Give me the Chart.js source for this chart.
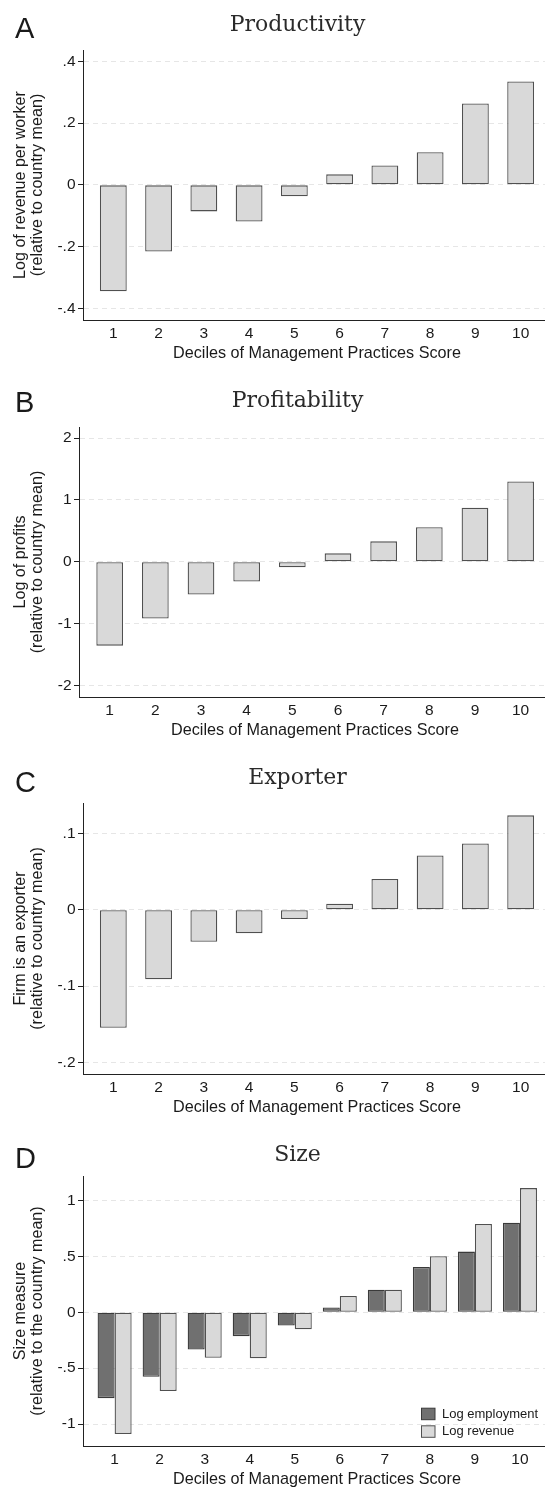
<!DOCTYPE html>
<html><head><meta charset="utf-8">
<script src="https://cdn.jsdelivr.net/npm/chart.js@4.4.1/dist/chart.umd.min.js"></script>
<style>
html,body{margin:0;padding:0;background:#fff;width:545px;height:1487px;overflow:hidden}
canvas{position:absolute;left:0;display:block}
</style></head><body>
<canvas id="cA" width="545" height="372" style="top:0px"></canvas>
<canvas id="cB" width="545" height="376" style="top:372px"></canvas>
<canvas id="cC" width="545" height="374" style="top:748px"></canvas>
<canvas id="cD" width="545" height="365" style="top:1122px"></canvas>
<script>
// ---- data ----
const deciles = [1,2,3,4,5,6,7,8,9,10];
const productivity = [-0.345,-0.216,-0.086,-0.119,-0.037,0.034,0.063,0.106,0.264,0.335];
const profitability = [-1.355,-0.918,-0.529,-0.318,-0.090,0.136,0.330,0.557,0.875,1.297];
const exporter = [-0.1545,-0.091,-0.042,-0.0306,-0.0122,0.0079,0.0403,0.0713,0.087,0.1238];
const logEmployment = [-0.768,-0.577,-0.333,-0.214,-0.119,0.042,0.202,0.405,0.542,0.801];
const logRevenue = [-1.089,-0.705,-0.408,-0.411,-0.152,0.146,0.202,0.500,0.789,1.110];

const yTicksA = [-0.4,-0.2,0,0.2,0.4];
const yTickLabelsA = ['-.4','-.2','0','.2','.4'];
const yTicksB = [-2,-1,0,1,2];
const yTickLabelsB = ['-2','-1','0','1','2'];
const yTicksC = [-0.2,-0.1,0,0.1];
const yTickLabelsC = ['-.2','-.1','0','.1'];
const yTicksD = [-1,-0.5,0,0.5,1];
const yTickLabelsD = ['-1','-.5','0','.5','1'];

const xTitle = 'Deciles of Management Practices Score';
const panelLetters = ['A','B','C','D'];
const panelTitles = ['Productivity','Profitability','Exporter','Size'];
const yTitleA = ['Log of revenue per worker','(relative to country mean)'];
const yTitleB = ['Log of profits','(relative to country mean)'];
const yTitleC = ['Firm is an exporter','(relative to country mean)'];
const yTitleD = ['Size measure','(relative to the country mean)'];
const seriesNamesD = ['Log employment','Log revenue'];

// ---- styles ----
const TEXT = '#1a1a1a';
const SANS = '"Liberation Sans", Arial, Helvetica, sans-serif';
const SERIF = '"DejaVu Serif", serif';
const LIGHT = '#d9d9d9', LIGHT_BORDER = '#505050';
const DARK = '#707070', DARK_BORDER = '#3a3a3a';

const panelText = {
  id: 'panelText',
  afterDraw(chart, args, o) {
    const ctx = chart.ctx, a = chart.chartArea;
    ctx.save();
    ctx.fillStyle = TEXT;
    ctx.textBaseline = 'alphabetic';
    ctx.textAlign = 'left';
    ctx.font = '29px ' + SANS;
    ctx.fillText(o.letter, 15, o.letterY);
    ctx.textAlign = 'center';
    ctx.fillStyle = '#2a2a2a';
    ctx.font = '22px ' + SERIF;
    ctx.fillText(o.title, 297.5, o.titleY);
    ctx.fillStyle = TEXT;
    ctx.font = '16.2px ' + SANS;
    ctx.fillText(o.xTitle, (a.left + a.right + 6) / 2, a.bottom + 38.3);
    if (o.legend) {
      const ds = chart.data.datasets;
      ds.forEach((d, i) => {
        const cy = a.bottom - 32.3 + i * 17.6;
        ctx.fillStyle = d.backgroundColor;
        ctx.fillRect(421.5, cy - 5.5, 13.5, 11.5);
        ctx.strokeStyle = d.borderColor;
        ctx.lineWidth = 1;
        ctx.strokeRect(421.5, cy - 5.5, 13.5, 11.5);
        ctx.fillStyle = TEXT;
        ctx.textAlign = 'left';
        ctx.textBaseline = 'middle';
        ctx.font = '13px ' + SANS;
        ctx.fillText(d.label, 442, cy + 0.5);
      });
    }
    ctx.restore();
  }
};

function makeChart(id, datasets, p) {
  return new Chart(document.getElementById(id), {
    type: 'bar',
    data: { datasets },
    plugins: [panelText],
    options: {
      responsive: false,
      animation: false,
      layout: { padding: { top: p.padTop, left: 0, right: 0, bottom: 0 } },
      plugins: {
        legend: { display: false },
        tooltip: { enabled: false },
        panelText: { letter: p.letter, title: p.title, letterY: p.letterY, titleY: p.titleY, xTitle: xTitle, legend: !!p.legend }
      },
      datasets: { bar: { categoryPercentage: p.cat, barPercentage: p.barPct, borderWidth: 1.3, borderSkipped: false } },
      scales: {
        x: {
          type: 'linear', offset: false, min: p.xmin, max: p.xmax,
          grid: { display: false, drawTicks: false, offset: false },
          border: { display: true, color: '#222', width: 1 },
          afterBuildTicks: s => { s.ticks = deciles.map(v => ({ value: v })); },
          afterFit: s => { s.height = p.xH; },
          ticks: { padding: 4, color: TEXT, font: { family: SANS, size: 15.5, lineHeight: 1.2 }, maxRotation: 0, autoSkip: false,
                   callback: v => String(v) }
        },
        y: {
          min: p.ymin, max: p.ymax,
          grid: { color: '#e6e6e6', lineWidth: 1, drawTicks: true, tickLength: 5, tickColor: '#222', tickBorderDash: [0, 0] },
          border: { display: true, color: '#222', width: 1, dash: [5, 4] },
          afterBuildTicks: s => { s.ticks = p.ticks.map(v => ({ value: v })); },
          afterFit: s => { s.width = p.yW; },
          ticks: { padding: 2.5, color: TEXT, font: { family: SANS, size: 15.5 },
                   callback: v => p.tickLabels[p.ticks.indexOf(v)] },
          title: { display: true, text: p.yTitle, color: TEXT, font: { family: SANS, size: 16.1, lineHeight: 1.02 }, padding: { top: 12.7, bottom: 0 } }
        }
      }
    }
  });
}

function single(vals) {
  return [{ label: '', data: deciles.map((d, i) => ({ x: d, y: vals[i] })), backgroundColor: LIGHT, borderColor: LIGHT_BORDER }];
}

makeChart('cA', single(productivity), {
  letter: panelLetters[0], title: panelTitles[0], letterY: 37.7, titleY: 30.7,
  padTop: 50, xH: 52, yW: 83, xmin: 0.330, xmax: 10.538, ymin: -0.438, ymax: 0.437,
  ticks: yTicksA, tickLabels: yTickLabelsA, yTitle: yTitleA, cat: 1, barPct: 0.593
});
makeChart('cB', single(profitability), {
  letter: panelLetters[1], title: panelTitles[1], letterY: 39.7, titleY: 35.3,
  padTop: 55, xH: 51, yW: 79, xmin: 0.328, xmax: 10.534, ymin: -2.185, ymax: 2.178,
  ticks: yTicksB, tickLabels: yTickLabelsB, yTitle: yTitleB, cat: 1, barPct: 0.585
});
makeChart('cC', single(exporter), {
  letter: panelLetters[2], title: panelTitles[2], letterY: 43.5, titleY: 36.3,
  padTop: 55, xH: 48, yW: 83, xmin: 0.330, xmax: 10.538, ymin: -0.2152, ymax: 0.140,
  ticks: yTicksC, tickLabels: yTickLabelsC, yTitle: yTitleC, cat: 1, barPct: 0.593
});
makeChart('cD', [
  { label: seriesNamesD[0], data: deciles.map((d, i) => ({ x: d, y: logEmployment[i] })), backgroundColor: DARK, borderColor: DARK_BORDER },
  { label: seriesNamesD[1], data: deciles.map((d, i) => ({ x: d, y: logRevenue[i] })), backgroundColor: LIGHT, borderColor: LIGHT_BORDER }
], {
  letter: panelLetters[3], title: panelTitles[3], letterY: 45.7, titleY: 38.7,
  padTop: 54, xH: 41, yW: 83, xmin: 0.298, xmax: 10.556, ymin: -1.196, ymax: 1.218,
  ticks: yTicksD, tickLabels: yTickLabelsD, yTitle: yTitleD, cat: 0.756, barPct: 1, legend: true
});
</script>
</body></html>
